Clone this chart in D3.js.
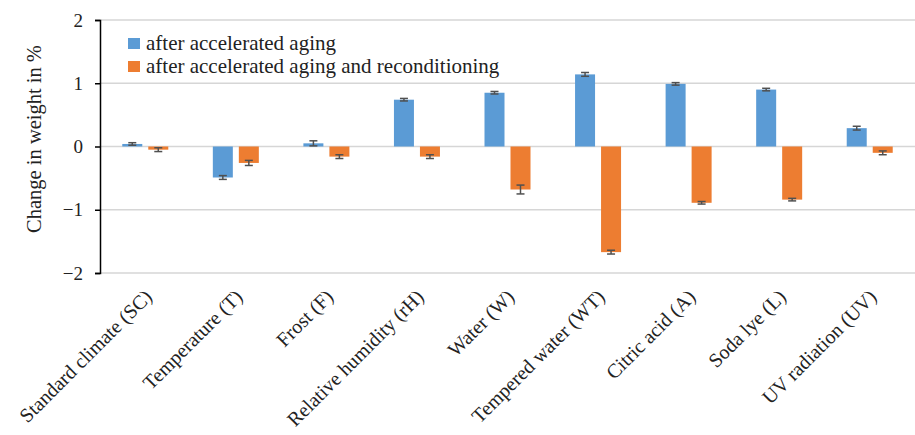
<!DOCTYPE html>
<html><head><meta charset="utf-8">
<script src="https://cdn.jsdelivr.net/npm/d3@7"></script>
<style>body{margin:0;background:#fff}svg{display:block}</style>
</head><body>
<svg id="c" width="915" height="435"></svg>
<script>
const categories = ["Standard climate (SC)","Temperature (T)","Frost (F)","Relative humidity (rH)","Water (W)","Tempered water (WT)","Citric acid (A)","Soda lye (L)","UV radiation (UV)"];
const seriesNames = ["after accelerated aging","after accelerated aging and reconditioning"];
const agingValues = [0.04,-0.49,0.05,0.74,0.85,1.14,0.99,0.90,0.29];
const agingErrors = [0.02,0.03,0.04,0.02,0.02,0.03,0.02,0.02,0.03];
const recondValues = [-0.05,-0.26,-0.16,-0.16,-0.68,-1.67,-0.89,-0.84,-0.10];
const recondErrors = [0.03,0.04,0.03,0.03,0.07,0.03,0.02,0.02,0.03];
const yTicks = [-2,-1,0,1,2];
const colors = ["#5B9BD5","#ED7D31"];

(function(){
const svg = d3.select("#c");
const font = "'Liberation Serif', serif";
const mL = 100, mR = 915, mT = 20, mB = 273;
const x = d3.scaleBand().domain(categories).range([mL, mR]);
const y = d3.scaleLinear().domain([-2,2]).range([mB, mT]);

svg.append("g").selectAll("line").data(yTicks).join("line")
  .attr("x1", mL).attr("x2", mR)
  .attr("y1", d=>y(d)).attr("y2", d=>y(d))
  .attr("stroke", "#d6d6d6").attr("stroke-width", 1.5);

const barW = 20, gap = 6;
const series = [
  {vals: agingValues, errs: agingErrors, off: -(gap/2 + barW)},
  {vals: recondValues, errs: recondErrors, off: gap/2}
];
series.forEach((s, si) => {
  const g = svg.append("g");
  g.selectAll("rect").data(categories).join("rect")
    .attr("x", (c)=> x(c) + x.bandwidth()/2 + s.off)
    .attr("width", barW)
    .attr("y", (c,i)=> y(Math.max(0, s.vals[i])))
    .attr("height", (c,i)=> Math.abs(y(s.vals[i]) - y(0)))
    .attr("fill", colors[si]);
  const eg = svg.append("g").attr("stroke", "#505050").attr("stroke-width", 1.5);
  categories.forEach((c,i)=>{
    const cx = x(c) + x.bandwidth()/2 + s.off + barW/2;
    const y1 = y(s.vals[i] + s.errs[i]), y2 = y(s.vals[i] - s.errs[i]);
    eg.append("line").attr("x1",cx).attr("x2",cx).attr("y1",y1).attr("y2",y2);
    eg.append("line").attr("x1",cx-4).attr("x2",cx+4).attr("y1",y1).attr("y2",y1);
    eg.append("line").attr("x1",cx-4).attr("x2",cx+4).attr("y1",y2).attr("y2",y2);
  });
});

const yAxis = d3.axisLeft(y).tickValues(yTicks).tickSize(5).tickPadding(12)
  .tickFormat(d => d < 0 ? "\u2212" + Math.abs(d) : String(d));
const ya = svg.append("g").attr("transform", `translate(${mL},0)`).call(yAxis);
ya.select(".domain").attr("stroke", "#000").attr("stroke-width", 1.5);
ya.selectAll(".tick line").attr("stroke", "#000").attr("stroke-width", 1.5);
ya.selectAll(".tick text").attr("font-family", font).attr("font-size", 19).attr("fill", "#222");

svg.append("text").attr("transform", `translate(41,139) rotate(-90)`)
  .attr("text-anchor", "middle").attr("font-family", font).attr("font-size", 20.5)
  .attr("fill", "#222").text("Change in weight in %");

svg.append("g").selectAll("text").data(categories).join("text")
  .attr("transform", c => `translate(${x(c)+x.bandwidth()/2+8},${298}) rotate(-45)`)
  .attr("text-anchor", "end")
  .attr("font-family", font).attr("font-size", 20).attr("fill", "#222")
  .text(c => c);

const lg = svg.append("g");
seriesNames.forEach((n,i)=>{
  lg.append("rect").attr("x", 128).attr("y", 38 + i*23).attr("width", 12).attr("height", 11).attr("fill", colors[i]);
  lg.append("text").attr("x", 146).attr("y", 50 + i*23).attr("font-family", font).attr("font-size", 21)
    .attr("fill", "#222").text(n);
});
})();
</script>
</body></html>
